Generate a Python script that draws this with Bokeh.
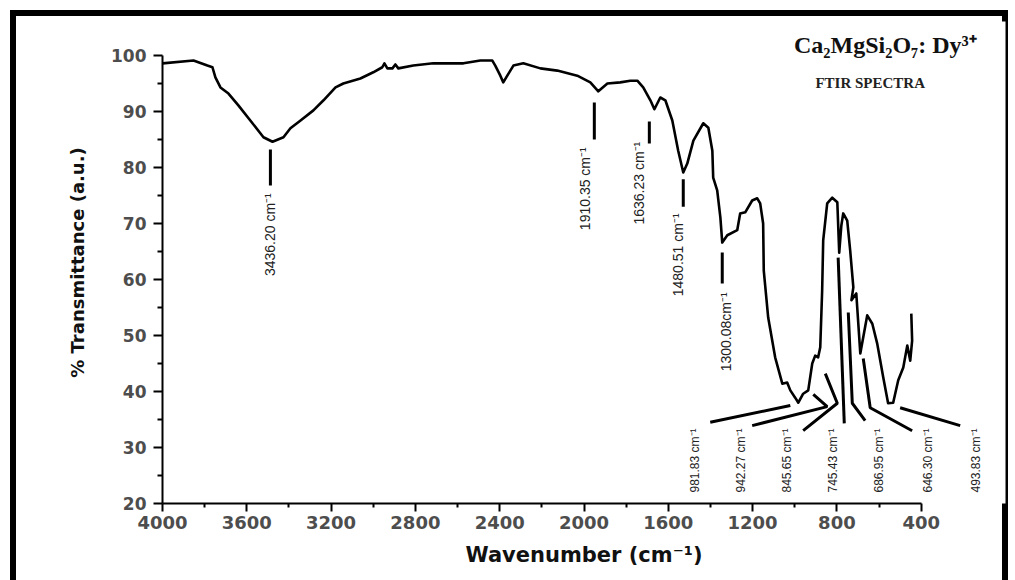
import math
from bokeh.plotting import figure
from bokeh.models import Range1d, FixedTicker
from bokeh.core.properties import value
from bokeh.embed import file_html
from bokeh.resources import INLINE

# ---- spectrum ----
wavenumber = [4000, 3853, 3787, 3763, 3749, 3725, 3687, 3640, 3573, 3521, 3478, 3426, 3393,
              3345, 3284, 3236, 3179, 3142, 3061, 3000, 2957, 2947, 2933, 2909, 2895, 2881,
              2810, 2715, 2572, 2492, 2435, 2421, 2397, 2383, 2364, 2335, 2288, 2207, 2127,
              2032, 1970, 1932, 1889, 1828, 1780, 1747, 1719, 1685, 1666, 1638, 1614, 1581,
              1553, 1529, 1510, 1481, 1434, 1410, 1391, 1387, 1368, 1353, 1344, 1320, 1273,
              1259, 1235, 1202, 1178, 1164, 1150, 1147, 1126, 1093, 1059, 1036, 1021, 998,
              983, 960, 936, 917, 903, 889, 879, 870, 865, 846, 822, 798, 789, 779, 770,
              751, 737, 722, 731, 708, 689, 656, 632, 609, 580, 557, 533, 509, 485, 466,
              452, 443, 447]
transmittance = [98.6, 99.1, 98.2, 97.9, 96.1, 94.3, 93.2, 91.1, 87.9, 85.4, 84.6, 85.4, 87.0,
                 88.4, 90.2, 92.0, 94.3, 95.0, 95.9, 97.0, 97.9, 98.6, 97.7, 97.7, 98.4, 97.7,
                 98.2, 98.6, 98.6, 99.1, 99.1, 98.2, 96.4, 95.2, 96.4, 98.2, 98.6, 97.7, 97.3,
                 96.4, 95.2, 93.6, 95.0, 95.2, 95.5, 95.5, 94.3, 92.0, 90.4, 92.5, 92.0, 88.4,
                 83.0, 79.1, 80.7, 84.8, 87.9, 87.1, 83.0, 78.2, 75.9, 71.1, 66.6, 67.9, 68.8,
                 71.8, 72.0, 74.1, 74.5, 73.6, 70.0, 61.6, 53.2, 46.1, 41.4, 41.6, 40.2, 38.9,
                 38.0, 39.6, 40.2, 45.0, 46.4, 46.1, 47.9, 58.0, 67.0, 73.6, 74.6, 73.8, 64.8, 69.6, 71.8,
                 70.5, 65.2, 58.6, 56.3, 57.5, 46.8, 53.6, 52.1, 48.6, 42.5, 37.9, 38.0, 42.0, 44.3, 48.2,
                 45.5, 49.1, 53.9]

# ---- upper peak annotations ----
upper_labels = ["3436.20 cm⁻¹", "1910.35 cm⁻¹", "1636.23 cm⁻¹", "1480.51 cm⁻¹", "1300.08cm⁻¹"]
upper_mark_x = [3488, 1951, 1690, 1529, 1344]
upper_mark_top = [83.2, 91.6, 88.2, 77.9, 64.8]
upper_mark_bottom = [76.8, 85.0, 84.3, 73.0, 59.3]
upper_text_x = [3492, 1994, 1738, 1553, 1325]
upper_text_top = [75.4, 83.6, 84.6, 71.8, 57.7]

# ---- lower peak annotations ----
lower_labels = ["981.83 cm⁻¹", "942.27 cm⁻¹", "845.65 cm⁻¹", "745.43 cm⁻¹",
                "686.95 cm⁻¹", "646.30 cm⁻¹", "493.83 cm⁻¹"]
lower_text_x = [1472, 1254, 1036, 818, 599, 367, 139]
lower_text_top = [33.4] * 7
leader_x = [[1401, 1021], [1202, 846, 912], [960, 798, 855], [794, 765],
            [746, 727, 666], [675, 642, 443], [500, 215]]
leader_y = [[34.5, 37.5], [33.9, 37.3, 39.5], [33.0, 37.9, 43.2], [63.9, 34.3],
            [54.1, 37.9, 34.8], [45.9, 37.1, 33.0], [37.1, 33.9]]

x_ticks = [4000, 3600, 3200, 2800, 2400, 2000, 1600, 1200, 800, 400]
x_minor = [3800, 3400, 3000, 2600, 2200, 1800, 1400, 1000, 600]
y_ticks = [20, 30, 40, 50, 60, 70, 80, 90, 100]
y_minor = [25, 35, 45, 55, 65, 75, 85, 95]

title_text = "Ca₂MgSi₂O₇: Dy³⁺"
subtitle_text = "FTIR SPECTRA"

p = figure(width=1015, height=580, x_range=Range1d(4000, 0), y_range=Range1d(20, 106.07),
           output_backend="svg", toolbar_location=None,
           min_border_left=162, min_border_right=10, min_border_top=21, min_border_bottom=77)
p.title.visible = False
p.outline_line_color = None
p.xgrid.visible = False
p.ygrid.visible = False
p.background_fill_color = "white"
p.border_fill_color = None
# thick picture frame (top, left, right) drawn behind the transparent border area
p.styles = {
    "background-color": "white",
    "box-shadow": ("inset 10px 0 0 0 white, inset 0 10px 0 0 white, inset -7px 0 0 0 white, "
                   "inset 16px 0 0 0 black, inset 0 16px 0 0 black, inset -13px 0 0 0 black"),
}

tick_font = "DejaVu Sans"
for ax in (p.xaxis[0], p.yaxis[0]):
    ax.axis_line_width = 2
    ax.major_tick_line_width = 2
    ax.minor_tick_line_width = 2
    ax.major_tick_in = 0
    ax.minor_tick_in = 0
    ax.major_label_text_font = tick_font
    ax.major_label_text_font_style = "bold"
    ax.major_label_text_color = "#4d4d4d"
    ax.axis_label_text_font = tick_font
    ax.axis_label_text_font_style = "bold"
    ax.axis_label_text_color = "#111111"

xa = p.xaxis[0]
xa.ticker = FixedTicker(ticks=x_ticks, minor_ticks=x_minor)
xa.bounds = (400, 4000)
xa.major_tick_out = 8
xa.minor_tick_out = 4
xa.major_label_standoff = 4
xa.major_label_text_font_size = "18px"
xa.axis_label = "Wavenumber (cm⁻¹)"
xa.axis_label_text_font_size = "21px"
xa.axis_label_standoff = 11

ya = p.yaxis[0]
ya.ticker = FixedTicker(ticks=y_ticks, minor_ticks=y_minor)
ya.bounds = (20, 100)
ya.major_tick_out = 9
ya.minor_tick_out = 5
ya.major_label_standoff = 7
ya.major_label_text_font_size = "17px"
ya.axis_label = "% Transmittance (a.u.)"
ya.axis_label_text_font_size = "18px"
ya.axis_label_standoff = 20

p.line(wavenumber, transmittance, line_color="black", line_width=2.6, line_join="round")

label_font = value("Liberation Sans")
# upper markers
p.segment(x0=upper_mark_x, y0=upper_mark_top, x1=upper_mark_x, y1=upper_mark_bottom,
          line_color="black", line_width=3)
p.text(x=upper_text_x, y=upper_text_top, text=upper_labels, angle=math.pi / 2,
       text_align="right", text_baseline="middle", text_font=label_font,
       text_font_size="14px", text_color="#222222")

# lower leaders
p.multi_line(xs=leader_x, ys=leader_y, line_color="black", line_width=3)
p.text(x=lower_text_x, y=lower_text_top, text=lower_labels, angle=math.pi / 2,
       text_align="right", text_baseline="middle", text_font=label_font,
       text_font_size="12px", text_color="#222222")

# titles
p.text(x=[570], y=[101.8], text=[title_text], text_align="center", text_baseline="middle",
       text_font=value("Liberation Serif"), text_font_style="bold", text_font_size="24px",
       text_color="#111111")
p.text(x=[642], y=[95.0], text=[subtitle_text], text_align="center", text_baseline="middle",
       text_font=value("Liberation Serif"), text_font_style="bold", text_font_size="15px",
       text_color="#222222")

open("out.html", "w").write(file_html(p, INLINE))
